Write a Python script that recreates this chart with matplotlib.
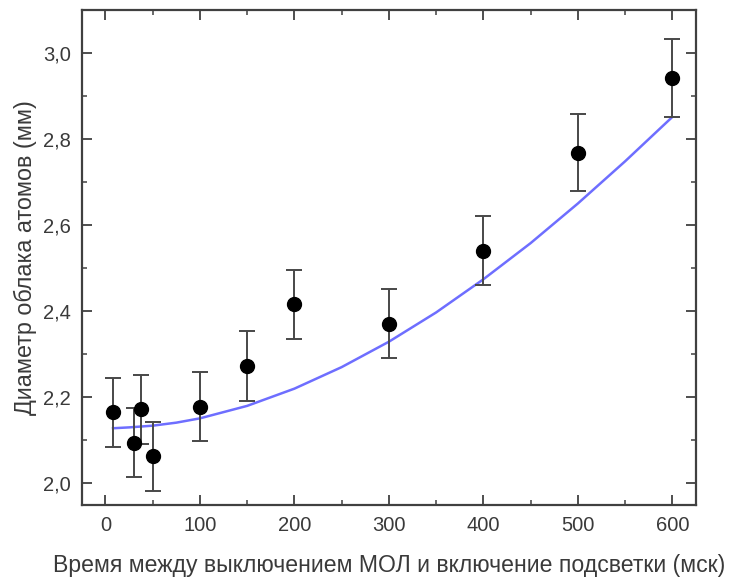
import matplotlib.pyplot as plt
import numpy as np
from matplotlib.ticker import MultipleLocator, FuncFormatter

plt.rcParams['font.family'] = ['Liberation Sans', 'DejaVu Sans']

# measured points
t_ms = [8, 30, 38, 50, 100, 150, 200, 300, 400, 500, 600]
diam = [2.165, 2.094, 2.172, 2.063, 2.178, 2.273, 2.416, 2.371, 2.540, 2.768, 2.942]
diam_err = [0.08, 0.08, 0.08, 0.08, 0.08, 0.082, 0.08, 0.08, 0.08, 0.09, 0.09]

# fit curve
fit_t = [8, 25, 50, 75, 100, 150, 200, 250, 300, 350, 400, 450, 500, 550, 600]
fit_d = [2.128, 2.130, 2.134, 2.141, 2.151, 2.180, 2.220, 2.270, 2.329,
         2.397, 2.474, 2.558, 2.650, 2.748, 2.851]

xlabel = "Время между выключением МОЛ и включение подсветки (мск)"
ylabel = "Диаметр облака атомов (мм)"

txt = "#3a3a3a"

fig = plt.figure(figsize=(7.31, 5.77), dpi=100)
ax = fig.add_axes([0.112, 0.125, 0.840, 0.858])

ax.plot(fit_t, fit_d, color="#6e6eff", lw=1.8, zorder=1)
ax.errorbar(t_ms, diam, yerr=diam_err, fmt="o", color="black", ms=10,
            ecolor="#484848", elinewidth=1.4, capsize=6, capthick=1.4, zorder=2)

ax.set_xlim(-25, 625)
ax.set_ylim(1.95, 3.1)

ax.xaxis.set_major_locator(MultipleLocator(100))
ax.xaxis.set_minor_locator(MultipleLocator(50))
ax.yaxis.set_major_locator(MultipleLocator(0.2))
ax.yaxis.set_minor_locator(MultipleLocator(0.1))
ax.yaxis.set_major_formatter(FuncFormatter(lambda v, p: f"{v:.1f}".replace(".", ",")))

ax.tick_params(which="both", direction="in", top=True, right=True,
               color="#404040", labelcolor=txt, labelsize=14.5)
ax.tick_params(which="major", length=7, width=1.3, pad=8)
ax.tick_params(which="minor", length=3.5, width=1.1)
for s in ax.spines.values():
    s.set_linewidth(1.6)
    s.set_color("#404040")

ax.set_xlabel(xlabel, fontsize=16.6, color=txt, labelpad=14)
ax.set_ylabel(ylabel, fontsize=16.8, color=txt, labelpad=4)

plt.savefig("out.png", dpi=100)
